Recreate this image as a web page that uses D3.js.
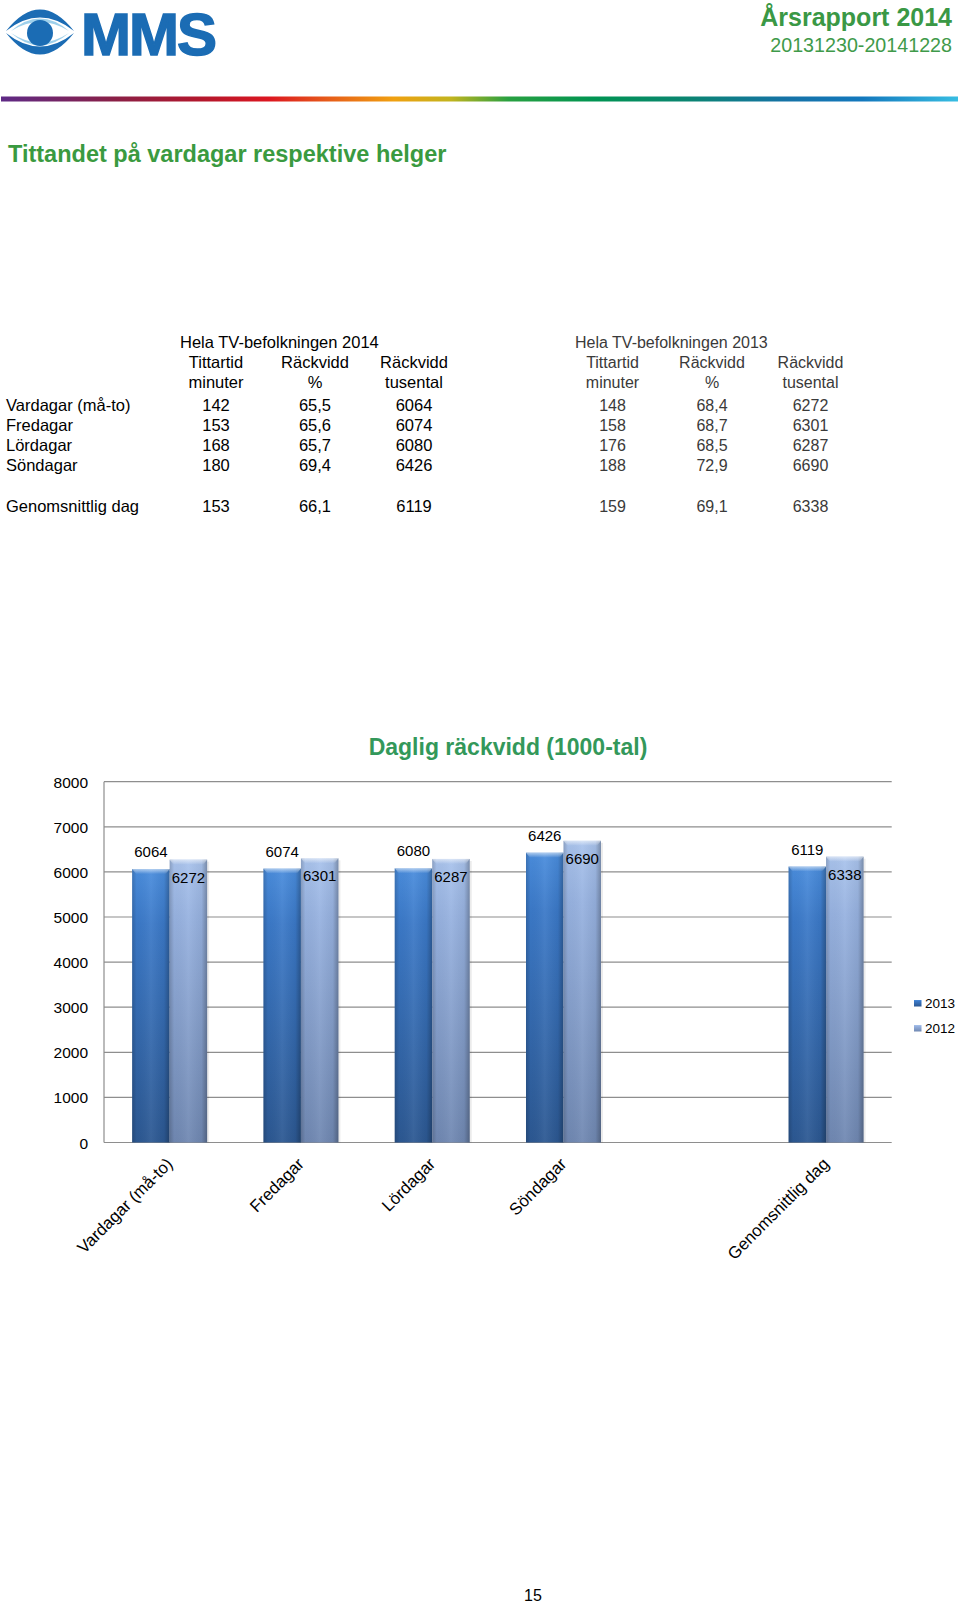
<!DOCTYPE html>
<meta charset="utf-8">
<style>
body { margin: 0; background: #fff; }
svg text { font-family: "Liberation Sans", Arial, sans-serif; }
</style>
<svg width="960" height="1604"></svg>
<script src="https://d3js.org/d3.v7.min.js"></script>
<script>

// ---- data: table
var tableRows = ["Vardagar (må-to)", "Fredagar", "Lördagar", "Söndagar", "Genomsnittlig dag"];
var tableHeads = [["Tittartid", "minuter"], ["Räckvidd", "%"], ["Räckvidd", "tusental"]];
var minutes2014 = ["142", "153", "168", "180", "153"];
var reachPct2014 = ["65,5", "65,6", "65,7", "69,4", "66,1"];
var reachK2014 = ["6064", "6074", "6080", "6426", "6119"];
var minutes2013 = ["148", "158", "176", "188", "159"];
var reachPct2013 = ["68,4", "68,7", "68,5", "72,9", "69,1"];
var reachK2013 = ["6272", "6301", "6287", "6690", "6338"];

// ---- data: chart
var categories = ["Vardagar (må-to)", "Fredagar", "Lördagar", "Söndagar", " ", "Genomsnittlig dag"];
var seriesNames = ["2013", "2012"];
var values2013 = [6064, 6074, 6080, 6426, null, 6119];
var values2012 = [6272, 6301, 6287, 6690, null, 6338];
var yTicks = [0, 1000, 2000, 3000, 4000, 5000, 6000, 7000, 8000];

var svg = d3.select("svg");
svg.append("rect").attr("width", 960).attr("height", 1604).attr("fill", "#fff");

var defs = svg.append("defs");

function linGrad(id, stops, horizontal) {
  var g = defs.append("linearGradient").attr("id", id)
      .attr("x1", 0).attr("y1", 0)
      .attr("x2", horizontal ? 1 : 0).attr("y2", horizontal ? 0 : 1);
  stops.forEach(function(s) {
    g.append("stop").attr("offset", s[0]).attr("stop-color", s[1])
        .attr("stop-opacity", s[2] == null ? 1 : s[2]);
  });
}

linGrad("rainbow", [
  [0, "#5e2a86"], [0.12, "#8a1f45"], [0.21, "#b3172c"], [0.28, "#dc1620"],
  [0.34, "#e65a1a"], [0.41, "#f0a010"], [0.47, "#c2b41e"], [0.53, "#28a040"],
  [0.62, "#009452"], [0.72, "#0b8472"], [0.82, "#1572a6"], [0.9, "#1378bd"],
  [1, "#37bde2"]
], true);
linGrad("dark", [[0, "#4a8ddd"], [0.2, "#3b79c8"], [1, "#2c5892"]]);
linGrad("light", [[0, "#a9c3ec"], [0.2, "#97b2e0"], [1, "#7088b2"]]);
linGrad("shade", [[0, "#000", 0.18], [0.12, "#000", 0.02], [0.5, "#fff", 0.06], [0.85, "#000", 0.05], [1, "#000", 0.28]], true);
linGrad("bevel", [[0, "#fff", 0.55], [1, "#fff", 0]]);

// ---- header
var logo = svg.append("g").attr("fill", "#1b6cb4");
logo.append("path").attr("d", "M6,31 Q40,-12 74,31 Q40,4 6,31 Z");
logo.append("path").attr("d", "M6,33 Q40,76 74,33 Q40,60 6,33 Z");
logo.append("path").attr("d", "M11,31 Q40,6 69,31 Q40,13 11,31 Z").attr("fill", "#4fa9da").attr("opacity", 0.55);
logo.append("path").attr("d", "M11,33 Q40,58 69,33 Q40,52 11,33 Z").attr("fill", "#4fa9da").attr("opacity", 0.55);
logo.append("circle").attr("cx", 40).attr("cy", 33).attr("r", 13);
logo.append("text").attr("x", 81).attr("y", 55)
    .attr("font-size", 60).attr("font-weight", "bold").attr("letter-spacing", -2)
    .attr("stroke", "#1b6cb4").attr("stroke-width", 1.5)
    .text("MMS");

svg.append("text").attr("x", 952).attr("y", 26).attr("text-anchor", "end")
    .attr("font-size", 25).attr("font-weight", "bold").attr("fill", "#3a9845")
    .text("Årsrapport 2014");
svg.append("text").attr("x", 952).attr("y", 51.5).attr("text-anchor", "end")
    .attr("font-size", 19.7).attr("fill", "#3f9a4a")
    .text("20131230-20141228");

svg.append("rect").attr("x", 1).attr("y", 96.5).attr("width", 957).attr("height", 5)
    .attr("fill", "url(#rainbow)");

svg.append("text").attr("x", 8).attr("y", 162)
    .attr("font-size", 23.5).attr("font-weight", "bold").attr("fill", "#3a9a40")
    .text("Tittandet på vardagar respektive helger");

// ---- table
var rowY = [411, 431, 451, 471, 512];
var table = svg.append("g").attr("font-size", 16.5);

table.selectAll(".rowlabel")
  .data(tableRows)
  .enter().append("text")
    .attr("class", "rowlabel")
    .attr("x", 6)
    .attr("y", function(d, i) { return rowY[i]; })
    .text(function(d) { return d; });

function tableBlock(title, x0, centers, cols, color, size) {
  var g = table.append("g").attr("fill", color).attr("font-size", size);
  g.append("text").attr("x", x0).attr("y", 348).text(title);
  tableHeads.forEach(function(h, j) {
    h.forEach(function(t, k) {
      g.append("text").attr("x", centers[j]).attr("y", 368 + k * 20)
          .attr("text-anchor", "middle").text(t);
    });
  });
  cols.forEach(function(col, j) {
    g.selectAll(".c" + j)
      .data(col)
      .enter().append("text")
        .attr("class", "c" + j)
        .attr("x", centers[j])
        .attr("y", function(d, i) { return rowY[i]; })
        .attr("text-anchor", "middle")
        .text(function(d) { return d; });
  });
}

tableBlock("Hela TV-befolkningen 2014", 180, [216, 315, 414],
  [minutes2014, reachPct2014, reachK2014], "#000", 16.5);
tableBlock("Hela TV-befolkningen 2013", 575, [612.5, 712, 810.5],
  [minutes2013, reachPct2013, reachK2013], "#3a3a3a", 16);

// ---- chart
var x = d3.scaleBand()
    .domain(categories)
    .range([104, 891.7]);

var x1 = d3.scaleBand()
    .domain(seriesNames)
    .range([0, 75]);

var y = d3.scaleLinear()
    .domain([0, 8000])
    .range([1142.5, 781.7]);

var chart = svg.append("g");

chart.append("text")
    .attr("x", 508).attr("y", 755)
    .attr("text-anchor", "middle")
    .attr("font-size", 23).attr("font-weight", "bold").attr("fill", "#33985a")
    .text("Daglig räckvidd (1000-tal)");

// grid
chart.append("g")
  .selectAll("line")
  .data(yTicks)
  .enter().append("line")
    .attr("x1", x.range()[0]).attr("x2", x.range()[1])
    .attr("y1", function(d) { return y(d); })
    .attr("y2", function(d) { return y(d); })
    .attr("stroke", "#8e8e8e").attr("stroke-width", 1.2);

chart.append("line")
    .attr("x1", x.range()[0]).attr("x2", x.range()[0])
    .attr("y1", y(8000)).attr("y2", y(0))
    .attr("stroke", "#8e8e8e").attr("stroke-width", 1.2);

// y axis labels
var yAxis = chart.append("g")
    .call(d3.axisLeft(y)
      .tickValues(yTicks)
      .tickFormat(d3.format("d"))
      .tickSize(0)
      .tickPadding(0));
yAxis.select(".domain").remove();
yAxis.selectAll(".tick text")
    .attr("x", 88)
    .attr("dy", "0.36em")
    .attr("font-family", "Liberation Sans, Arial, sans-serif")
    .attr("font-size", 15.5)
    .attr("fill", "#000");

// bars
var rows = categories.map(function(c, i) {
  return { cat: c, vals: [
    { key: "2013", v: values2013[i] },
    { key: "2012", v: values2012[i] }
  ] };
});

var groups = chart.append("g")
  .selectAll("g")
  .data(rows)
  .enter().append("g")
    .attr("transform", function(d) {
      return "translate(" + (x(d.cat) + (x.bandwidth() - 75) / 2) + ",0)";
    });

var bars = groups.selectAll("g")
  .data(function(d) { return d.vals.filter(function(b) { return b.v != null; }); })
  .enter().append("g");

bars.append("rect")
    .attr("x", function(d) { return x1(d.key) + 2; })
    .attr("y", function(d) { return y(d.v) + 2; })
    .attr("width", x1.bandwidth())
    .attr("height", function(d) { return y(0) - y(d.v) - 2; })
    .attr("fill", "#000").attr("opacity", 0.08);

bars.append("rect")
    .attr("x", function(d) { return x1(d.key); })
    .attr("y", function(d) { return y(d.v); })
    .attr("width", x1.bandwidth())
    .attr("height", function(d) { return y(0) - y(d.v); })
    .attr("fill", function(d) { return d.key === "2013" ? "url(#dark)" : "url(#light)"; });

bars.append("rect")
    .attr("x", function(d) { return x1(d.key); })
    .attr("y", function(d) { return y(d.v); })
    .attr("width", x1.bandwidth())
    .attr("height", function(d) { return y(0) - y(d.v); })
    .attr("fill", "url(#shade)");

bars.append("path")
    .attr("d", function(d) {
      var l = x1(d.key), r = l + x1.bandwidth(), t = y(d.v);
      return "M" + l + "," + t + "L" + r + "," + t + "L" + (r - 4) + "," + (t + 5) +
             "L" + (l + 4) + "," + (t + 5) + "Z";
    })
    .attr("fill", "url(#bevel)");

bars.append("text")
    .attr("x", function(d) { return x1(d.key) + x1.bandwidth() / 2; })
    .attr("y", function(d) { return d.key === "2013" ? y(d.v) - 12 : y(d.v) + 23; })
    .attr("text-anchor", "middle")
    .attr("font-family", "'Open Sans', sans-serif")
    .attr("font-size", 15)
    .attr("fill", "#000")
    .text(function(d) { return d.v; });

// x labels
chart.append("g")
  .selectAll("text")
  .data(categories)
  .enter().append("text")
    .attr("transform", function(d) {
      return "translate(" + (x(d) + x.bandwidth() / 2 + 4) + ",1165) rotate(-45)";
    })
    .attr("text-anchor", "end")
    .attr("font-size", 16.8)
    .attr("fill", "#000")
    .text(function(d) { return d; });

// legend
var legend = chart.append("g")
  .selectAll("g")
  .data(seriesNames)
  .enter().append("g")
    .attr("transform", function(d, i) { return "translate(914," + (1000 + i * 25) + ")"; });

legend.append("rect")
    .attr("width", 7.5).attr("height", 6.5)
    .attr("fill", function(d) { return d === "2013" ? "url(#dark)" : "url(#light)"; });

legend.append("text")
    .attr("x", 11).attr("y", 8)
    .attr("font-size", 13.5)
    .attr("fill", "#000")
    .text(function(d) { return d; });

// page number
svg.append("text").attr("x", 533).attr("y", 1601).attr("text-anchor", "middle")
    .attr("font-size", 16).text("15");

</script>
